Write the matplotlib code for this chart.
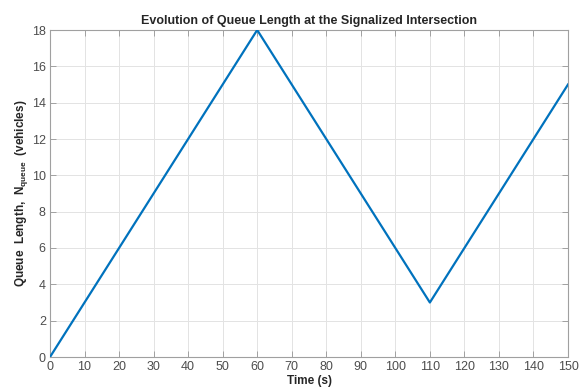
import matplotlib
matplotlib.use("Agg")
import matplotlib.pyplot as plt

time_s = [0, 60, 110, 150]
queue_len = [0, 18, 3, 15]
xticks = list(range(0, 151, 10))
yticks = list(range(0, 19, 2))

plt.rcParams['font.family'] = ['Liberation Sans', 'DejaVu Sans']
plt.rcParams['mathtext.fontset'] = 'custom'
plt.rcParams['mathtext.rm'] = 'Liberation Sans'
plt.rcParams['mathtext.bf'] = 'Liberation Sans:bold'
plt.rcParams['mathtext.it'] = 'Liberation Sans:italic'

fig = plt.figure(figsize=(5.83, 3.88), dpi=100)
ax = fig.add_axes([50/583, 1-357/388, (568-50)/583, (357-30)/388])
ax.plot(time_s, queue_len, color='#0072BD', linewidth=1.6, zorder=3)
ax.set_xlim(0, 150)
ax.set_ylim(0, 18)
ax.set_xticks(xticks)
ax.set_yticks(yticks)
ax.grid(True, color='#e3e3e3', linewidth=0.7)
ax.set_axisbelow(True)
for s in ax.spines.values():
    s.set_color('#a0a0a0')
    s.set_linewidth(0.8)
ax.tick_params(direction='in', length=4, width=0.7, color='#a0a0a0',
               labelcolor='#4d4d4d', labelsize=9, top=True, right=True, pad=3)
ax.set_title('Evolution of Queue Length at the Signalized Intersection',
             fontsize=9, fontweight='bold', color='#262626', pad=4)
ax.set_xlabel('Time (s)', fontsize=8.5, fontweight='bold', color='#262626', labelpad=1)
ax.set_ylabel(r'Queue  Length,  $\mathbf{N}_{\mathbf{queue}}$  (vehicles)',
              fontsize=8.5, fontweight='bold', color='#262626', labelpad=1)
fig.savefig('out.png', dpi=100)
